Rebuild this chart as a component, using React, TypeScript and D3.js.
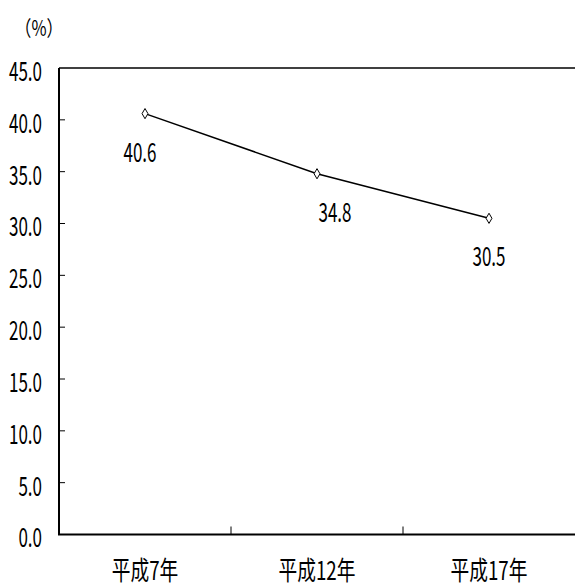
import { useRef, useEffect } from 'react'
import * as d3 from 'd3'

const categories = ['平成7年', '平成12年', '平成17年']
const values = [40.6, 34.8, 30.5]
const yTicks = [0, 5, 10, 15, 20, 25, 30, 35, 40, 45]
// small hand-placed nudges of the value labels, as in the original
const labelNudge = [-5, 18, 0]

const WIDTH = 575
const HEIGHT = 588
const FONT = '"Noto Sans CJK JP", "Noto Sans", sans-serif'

export default function App() {
  const svgRef = useRef<SVGSVGElement>(null)

  useEffect(() => {
    if (!svgRef.current) return
    const svg = d3.select(svgRef.current)
    svg.selectAll('*').remove()

    const margin = { top: 68, right: 0, bottom: 53.5, left: 59 }
    const x = d3
      .scaleBand<string>()
      .domain(categories)
      .range([margin.left, WIDTH - margin.right])
    const y = d3
      .scaleLinear()
      .domain([0, 45])
      .range([HEIGHT - margin.bottom, margin.top])

    // narrow text helper: the source font is a condensed gothic
    const label = (
      tx: number,
      ty: number,
      text: string,
      anchor: string,
      size: number,
      squeeze: number
    ) => {
      svg
        .append('g')
        .attr('transform', `translate(${tx},${ty}) scale(${squeeze},1)`)
        .append('text')
        .attr('text-anchor', anchor)
        .attr('dominant-baseline', 'central')
        .attr('font-family', FONT)
        .attr('font-size', size)
        .attr('fill', '#000')
        .text(text)
    }

    // top frame line
    svg
      .append('line')
      .attr('x1', margin.left)
      .attr('x2', WIDTH)
      .attr('y1', y(45))
      .attr('y2', y(45))
      .attr('stroke', '#000')
      .attr('stroke-width', 1.5)

    // y ticks (inward) and labels
    yTicks.forEach((t) => {
      if (t !== 0 && t !== 45) {
        svg
          .append('line')
          .attr('x1', margin.left)
          .attr('x2', margin.left + 6)
          .attr('y1', y(t))
          .attr('y2', y(t))
          .attr('stroke', '#000')
          .attr('stroke-width', 1)
      }
      label(42, y(t) + 1, t.toFixed(1), 'end', 27, 0.63)
    })

    // x ticks at band boundaries, pointing up
    categories.slice(1).forEach((c) => {
      const bx = x(c)!
      svg
        .append('line')
        .attr('x1', bx)
        .attr('x2', bx)
        .attr('y1', y(0))
        .attr('y2', y(0) - 8)
        .attr('stroke', '#000')
        .attr('stroke-width', 1)
    })

    // axes
    svg
      .append('line')
      .attr('x1', margin.left)
      .attr('x2', margin.left)
      .attr('y1', y(45))
      .attr('y2', y(0))
      .attr('stroke', '#000')
      .attr('stroke-width', 2)
    svg
      .append('line')
      .attr('x1', margin.left - 1)
      .attr('x2', WIDTH)
      .attr('y1', y(0))
      .attr('y2', y(0))
      .attr('stroke', '#000')
      .attr('stroke-width', 2)

    categories.forEach((c) => {
      label(x(c)! + x.bandwidth() / 2, 569, c, 'middle', 26, 0.72)
    })

    label(15, 27, '（%）', 'start', 21, 0.78)

    const cx = (i: number) => x(categories[i])! + x.bandwidth() / 2

    const line = d3
      .line<number>()
      .x((_, i) => cx(i))
      .y((d) => y(d))

    svg
      .append('path')
      .datum(values)
      .attr('d', line)
      .attr('fill', 'none')
      .attr('stroke', '#000')
      .attr('stroke-width', 1.5)

    const diamond = d3.symbol().type(d3.symbolDiamond).size(30)
    values.forEach((v, i) => {
      svg
        .append('path')
        .attr('d', diamond()!)
        .attr('transform', `translate(${cx(i)},${y(v)})`)
        .attr('fill', '#fff')
        .attr('stroke', '#000')
        .attr('stroke-width', 1)
      label(cx(i) + labelNudge[i], y(v) + 36, v.toFixed(1), 'middle', 27, 0.63)
    })
  }, [])

  return (
    <svg
      ref={svgRef}
      width={WIDTH}
      height={HEIGHT}
      style={{ position: 'absolute', left: 0, top: 0, background: '#fff' }}
    />
  )
}
